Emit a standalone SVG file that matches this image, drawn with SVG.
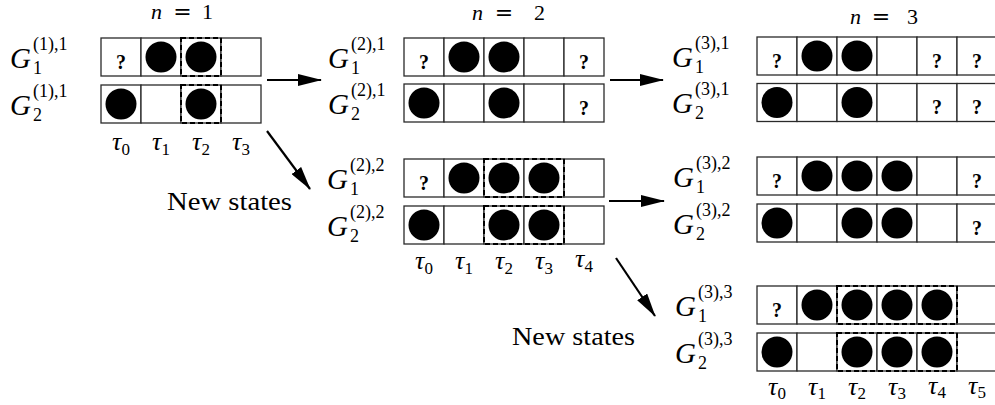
<svg xmlns="http://www.w3.org/2000/svg" width="995" height="405" viewBox="0 0 995 405">
<style>
.cell{fill:#fff;stroke:#2a2a2a;stroke-width:1.3}
.dot{fill:#000}
.dash{fill:none;stroke:#000;stroke-width:2;stroke-dasharray:5 3}
.q{font-family:'Liberation Serif','DejaVu Serif',serif;font-weight:bold;font-size:20px;text-anchor:middle}
.G{font-family:'Liberation Serif','DejaVu Serif',serif;font-style:italic;font-size:29px}
.sup{font-family:'Liberation Serif','DejaVu Serif',serif;font-size:18px}
.tau{font-family:'Liberation Serif','DejaVu Serif',serif;font-style:italic;font-size:26px;text-anchor:middle}
.sub{font-style:normal;font-size:17px}
.lbl{font-family:'Liberation Serif','DejaVu Serif',serif;font-size:26px}
.m{font-family:'Liberation Serif','DejaVu Serif',serif;font-size:22px}
.eq{font-family:'DejaVu Serif',serif;font-size:22px;text-anchor:middle}
.arr{stroke:#000;stroke-width:2.2;fill:none;marker-end:url(#ah)}
</style>
<defs>
<marker id="ah" markerUnits="userSpaceOnUse" markerWidth="24" markerHeight="12" refX="23" refY="6" orient="auto"><path d="M0,0 L24,6 L0,12 z" fill="#000"/></marker>
</defs>

<g id="headers">
<text class="m" x="151" y="19" font-style="italic">n</text><text class="eq" x="182.5" y="19">=</text><text class="m" x="213" y="19" text-anchor="end">1</text>
<text class="m" x="472" y="20" font-style="italic">n</text><text class="eq" x="504" y="20">=</text><text class="m" x="545" y="20" text-anchor="end">2</text>
<text class="m" x="850" y="24" font-style="italic">n</text><text class="eq" x="881" y="24">=</text><text class="m" x="918" y="24" text-anchor="end">3</text>
</g>

<g id="n1-state1">
<rect class="cell" x="101" y="38" width="40" height="38"/><rect class="cell" x="141" y="38" width="40" height="38"/><rect class="cell" x="181" y="38" width="40" height="38"/><rect class="cell" x="221" y="38" width="40" height="38"/>
<text class="q" x="121" y="69">?</text>
<circle class="dot" cx="161" cy="57" r="15.5"/><circle class="dot" cx="201" cy="57" r="15.5"/>
<rect class="dash" x="181" y="38" width="40" height="38"/>
<rect class="cell" x="101" y="85" width="40" height="38"/><rect class="cell" x="141" y="85" width="40" height="38"/><rect class="cell" x="181" y="85" width="40" height="38"/><rect class="cell" x="221" y="85" width="40" height="38"/>
<circle class="dot" cx="121" cy="104" r="15.5"/><circle class="dot" cx="201" cy="104" r="15.5"/>
<rect class="dash" x="181" y="85" width="40" height="38"/>
<text class="G" x="10" y="68">G</text><text class="sup" x="33" y="50">(1),1</text><text class="sup" x="33" y="74">1</text>
<text class="G" x="10" y="115">G</text><text class="sup" x="33" y="97">(1),1</text><text class="sup" x="33" y="121">2</text>
<text class="tau" x="121" y="150">τ<tspan class="sub" dy="5">0</tspan></text>
<text class="tau" x="161" y="150">τ<tspan class="sub" dy="5">1</tspan></text>
<text class="tau" x="201" y="150">τ<tspan class="sub" dy="5">2</tspan></text>
<text class="tau" x="241" y="150">τ<tspan class="sub" dy="5">3</tspan></text>
</g>

<g id="n2-state1">
<rect class="cell" x="404" y="38" width="40" height="38"/><rect class="cell" x="444" y="38" width="40" height="38"/><rect class="cell" x="484" y="38" width="40" height="38"/><rect class="cell" x="524" y="38" width="40" height="38"/><rect class="cell" x="564" y="38" width="40" height="38"/>
<text class="q" x="424" y="69">?</text><text class="q" x="584" y="69">?</text>
<circle class="dot" cx="464" cy="57" r="15.5"/><circle class="dot" cx="504" cy="57" r="15.5"/>
<rect class="cell" x="404" y="84" width="40" height="38"/><rect class="cell" x="444" y="84" width="40" height="38"/><rect class="cell" x="484" y="84" width="40" height="38"/><rect class="cell" x="524" y="84" width="40" height="38"/><rect class="cell" x="564" y="84" width="40" height="38"/>
<circle class="dot" cx="424" cy="103" r="15.5"/><circle class="dot" cx="504" cy="103" r="15.5"/>
<text class="q" x="584" y="115">?</text>
<text class="G" x="328" y="68">G</text><text class="sup" x="351" y="50">(2),1</text><text class="sup" x="351" y="74">1</text>
<text class="G" x="328" y="114">G</text><text class="sup" x="351" y="96">(2),1</text><text class="sup" x="351" y="120">2</text>
</g>

<g id="n2-state2">
<rect class="cell" x="404" y="159" width="40" height="38"/><rect class="cell" x="444" y="159" width="40" height="38"/><rect class="cell" x="484" y="159" width="40" height="38"/><rect class="cell" x="524" y="159" width="40" height="38"/><rect class="cell" x="564" y="159" width="40" height="38"/>
<text class="q" x="424" y="190">?</text>
<circle class="dot" cx="464" cy="178" r="15.5"/><circle class="dot" cx="504" cy="178" r="15.5"/><circle class="dot" cx="544" cy="178" r="15.5"/>
<rect class="dash" x="484" y="159" width="80" height="38"/>
<rect class="cell" x="404" y="206" width="40" height="38"/><rect class="cell" x="444" y="206" width="40" height="38"/><rect class="cell" x="484" y="206" width="40" height="38"/><rect class="cell" x="524" y="206" width="40" height="38"/><rect class="cell" x="564" y="206" width="40" height="38"/>
<circle class="dot" cx="424" cy="225" r="15.5"/><circle class="dot" cx="504" cy="225" r="15.5"/><circle class="dot" cx="544" cy="225" r="15.5"/>
<rect class="dash" x="484" y="206" width="80" height="38"/>
<text class="G" x="327" y="189">G</text><text class="sup" x="350" y="171">(2),2</text><text class="sup" x="350" y="195">1</text>
<text class="G" x="327" y="236">G</text><text class="sup" x="350" y="218">(2),2</text><text class="sup" x="350" y="242">2</text>
<text class="tau" x="424" y="269">τ<tspan class="sub" dy="5">0</tspan></text>
<text class="tau" x="464" y="269">τ<tspan class="sub" dy="5">1</tspan></text>
<text class="tau" x="504" y="269">τ<tspan class="sub" dy="5">2</tspan></text>
<text class="tau" x="544" y="269">τ<tspan class="sub" dy="5">3</tspan></text>
<text class="tau" x="584" y="267">τ<tspan class="sub" dy="5">4</tspan></text>
</g>

<g id="n3-state1">
<rect class="cell" x="757" y="37" width="40" height="38"/><rect class="cell" x="797" y="37" width="40" height="38"/><rect class="cell" x="837" y="37" width="40" height="38"/><rect class="cell" x="877" y="37" width="40" height="38"/><rect class="cell" x="917" y="37" width="40" height="38"/><rect class="cell" x="957" y="37" width="40" height="38"/>
<text class="q" x="777" y="68">?</text><text class="q" x="937" y="68">?</text><text class="q" x="977" y="68">?</text>
<circle class="dot" cx="817" cy="56" r="15.5"/><circle class="dot" cx="857" cy="56" r="15.5"/>
<rect class="cell" x="757" y="83.5" width="40" height="38"/><rect class="cell" x="797" y="83.5" width="40" height="38"/><rect class="cell" x="837" y="83.5" width="40" height="38"/><rect class="cell" x="877" y="83.5" width="40" height="38"/><rect class="cell" x="917" y="83.5" width="40" height="38"/><rect class="cell" x="957" y="83.5" width="40" height="38"/>
<circle class="dot" cx="777" cy="102.5" r="15.5"/><circle class="dot" cx="857" cy="102.5" r="15.5"/>
<text class="q" x="937" y="114">?</text><text class="q" x="977" y="114">?</text>
<text class="G" x="672" y="67">G</text><text class="sup" x="695" y="49">(3),1</text><text class="sup" x="695" y="73">1</text>
<text class="G" x="672" y="113">G</text><text class="sup" x="695" y="95">(3),1</text><text class="sup" x="695" y="119">2</text>
</g>

<g id="n3-state2">
<rect class="cell" x="757" y="157" width="40" height="38"/><rect class="cell" x="797" y="157" width="40" height="38"/><rect class="cell" x="837" y="157" width="40" height="38"/><rect class="cell" x="877" y="157" width="40" height="38"/><rect class="cell" x="917" y="157" width="40" height="38"/><rect class="cell" x="957" y="157" width="40" height="38"/>
<text class="q" x="777" y="188">?</text><text class="q" x="977" y="188">?</text>
<circle class="dot" cx="817" cy="176" r="15.5"/><circle class="dot" cx="857" cy="176" r="15.5"/><circle class="dot" cx="897" cy="176" r="15.5"/>
<rect class="cell" x="757" y="204" width="40" height="38"/><rect class="cell" x="797" y="204" width="40" height="38"/><rect class="cell" x="837" y="204" width="40" height="38"/><rect class="cell" x="877" y="204" width="40" height="38"/><rect class="cell" x="917" y="204" width="40" height="38"/><rect class="cell" x="957" y="204" width="40" height="38"/>
<circle class="dot" cx="777" cy="223" r="15.5"/><circle class="dot" cx="857" cy="223" r="15.5"/><circle class="dot" cx="897" cy="223" r="15.5"/>
<text class="q" x="977" y="235">?</text>
<text class="G" x="673" y="187">G</text><text class="sup" x="696" y="169">(3),2</text><text class="sup" x="696" y="193">1</text>
<text class="G" x="673" y="234">G</text><text class="sup" x="696" y="216">(3),2</text><text class="sup" x="696" y="240">2</text>
</g>

<g id="n3-state3">
<rect class="cell" x="757" y="286" width="40" height="38"/><rect class="cell" x="797" y="286" width="40" height="38"/><rect class="cell" x="837" y="286" width="40" height="38"/><rect class="cell" x="877" y="286" width="40" height="38"/><rect class="cell" x="917" y="286" width="40" height="38"/><rect class="cell" x="957" y="286" width="40" height="38"/>
<text class="q" x="777" y="317">?</text>
<circle class="dot" cx="817" cy="305" r="15.5"/><circle class="dot" cx="857" cy="305" r="15.5"/><circle class="dot" cx="897" cy="305" r="15.5"/><circle class="dot" cx="937" cy="305" r="15.5"/>
<rect class="dash" x="837" y="286" width="120" height="38"/>
<rect class="cell" x="757" y="333" width="40" height="38"/><rect class="cell" x="797" y="333" width="40" height="38"/><rect class="cell" x="837" y="333" width="40" height="38"/><rect class="cell" x="877" y="333" width="40" height="38"/><rect class="cell" x="917" y="333" width="40" height="38"/><rect class="cell" x="957" y="333" width="40" height="38"/>
<circle class="dot" cx="777" cy="352" r="15.5"/><circle class="dot" cx="857" cy="352" r="15.5"/><circle class="dot" cx="897" cy="352" r="15.5"/><circle class="dot" cx="937" cy="352" r="15.5"/>
<rect class="dash" x="837" y="333" width="120" height="38"/>
<text class="G" x="675" y="316">G</text><text class="sup" x="698" y="298">(3),3</text><text class="sup" x="698" y="322">1</text>
<text class="G" x="675" y="363">G</text><text class="sup" x="698" y="345">(3),3</text><text class="sup" x="698" y="369">2</text>
<text class="tau" x="777" y="395">τ<tspan class="sub" dy="4">0</tspan></text>
<text class="tau" x="817" y="395">τ<tspan class="sub" dy="4">1</tspan></text>
<text class="tau" x="857" y="395">τ<tspan class="sub" dy="4">2</tspan></text>
<text class="tau" x="897" y="395">τ<tspan class="sub" dy="4">3</tspan></text>
<text class="tau" x="937" y="394">τ<tspan class="sub" dy="4">4</tspan></text>
<text class="tau" x="977" y="394">τ<tspan class="sub" dy="4">5</tspan></text>
</g>

<g id="captions">
<text class="lbl" x="167" y="210" textLength="125" lengthAdjust="spacingAndGlyphs">New states</text>
<text class="lbl" x="512" y="345" textLength="123" lengthAdjust="spacingAndGlyphs">New states</text>
</g>

<g id="connectors">
<line class="arr" x1="267" y1="80" x2="321" y2="80"/>
<line class="arr" x1="267" y1="131" x2="310" y2="189"/>
<line class="arr" x1="610" y1="80" x2="663" y2="80"/>
<line class="arr" x1="609" y1="201" x2="664" y2="201"/>
<line class="arr" x1="616" y1="258" x2="655" y2="316"/>
</g>
</svg>
